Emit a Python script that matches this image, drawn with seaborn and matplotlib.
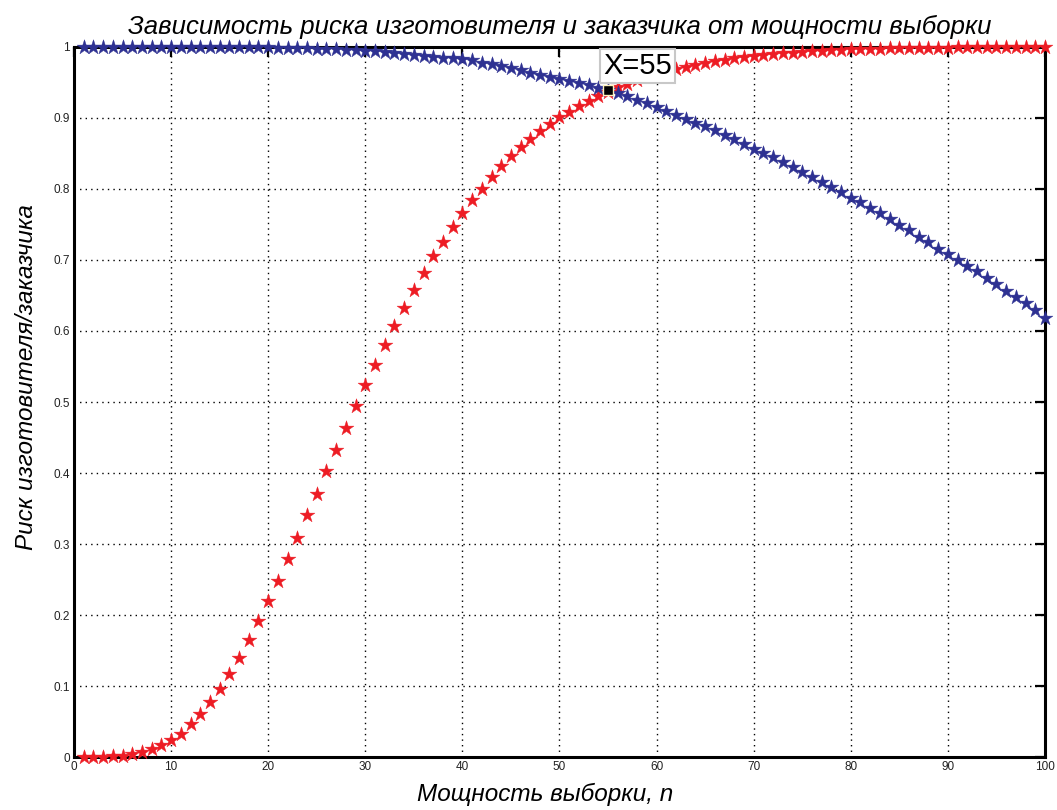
import numpy as np
import pandas as pd
import matplotlib
matplotlib.use("Agg")
import matplotlib.pyplot as plt
import seaborn as sns
from matplotlib.font_manager import fontManager

# ---- data ----
n_values = list(range(1, 101))

producer_risk = [  # red series
    0.000, 0.000, 0.000, 0.001, 0.002, 0.004, 0.007, 0.012, 0.017, 0.024,
    0.033, 0.046, 0.060, 0.077, 0.096, 0.117, 0.140, 0.165, 0.192, 0.220,
    0.248, 0.279, 0.309, 0.341, 0.371, 0.403, 0.433, 0.464, 0.494, 0.524,
    0.552, 0.580, 0.607, 0.633, 0.658, 0.682, 0.705, 0.726, 0.746, 0.766,
    0.785, 0.800, 0.817, 0.832, 0.846, 0.859, 0.871, 0.881, 0.891, 0.901,
    0.909, 0.917, 0.924, 0.931, 0.937, 0.943, 0.948, 0.953, 0.958, 0.962,
    0.966, 0.969, 0.972, 0.975, 0.978, 0.980, 0.982, 0.984, 0.986, 0.988,
    0.989, 0.990, 0.991, 0.992, 0.993, 0.994, 0.995, 0.9955, 0.996, 0.9965,
    0.997, 0.9973, 0.9976, 0.998, 0.9982, 0.9985, 0.9987, 0.9989, 0.999, 0.9992,
    0.9993, 0.9994, 0.9995, 0.9996, 0.9997, 0.9997, 0.9998, 0.9998, 0.9999, 0.9999,
]

consumer_risk = [  # blue series
    1.000, 1.000, 1.000, 1.000, 1.000, 1.000, 1.000, 1.000, 1.000, 1.000,
    1.000, 1.000, 0.9999, 0.9999, 0.9999, 0.9998, 0.9997, 0.9996, 0.9995, 0.9993,
    0.9991, 0.9988, 0.9985, 0.9982, 0.9978, 0.9973, 0.9967, 0.9961, 0.9954, 0.9946,
    0.9937, 0.9927, 0.9916, 0.9904, 0.9892, 0.9879, 0.9865, 0.9850, 0.985, 0.983,
    0.981, 0.978, 0.976, 0.973, 0.970, 0.967, 0.964, 0.961, 0.958, 0.955,
    0.952, 0.949, 0.946, 0.942, 0.939, 0.935, 0.931, 0.926, 0.921, 0.916,
    0.910, 0.904, 0.899, 0.893, 0.889, 0.883, 0.876, 0.870, 0.863, 0.857,
    0.850, 0.845, 0.838, 0.831, 0.824, 0.817, 0.810, 0.803, 0.796, 0.788,
    0.781, 0.773, 0.766, 0.758, 0.749, 0.742, 0.733, 0.725, 0.716, 0.708,
    0.700, 0.692, 0.684, 0.674, 0.666, 0.657, 0.648, 0.639, 0.630, 0.618,
]

x_ticks = list(range(0, 101, 10))
y_ticks = [0, 0.1, 0.2, 0.3, 0.4, 0.5, 0.6, 0.7, 0.8, 0.9, 1]
y_tick_labels = ["0", "0.1", "0.2", "0.3", "0.4", "0.5", "0.6", "0.7", "0.8", "0.9", "1"]

tip_x = 55
tip_label = "X=55"

title_text = "Зависимость риска изготовителя и заказчика от мощности выборки"
x_label = "Мощность выборки, n"
y_label = "Риск изготовителя/заказчика"

# ---- style ----
sns.set_style("white")
names = {f.name for f in fontManager.ttflist}
cond_font = "Liberation Sans Narrow" if "Liberation Sans Narrow" in names else "Liberation Sans"
plt.rcParams["font.family"] = ["Liberation Sans", "DejaVu Sans"]
plt.rcParams["text.color"] = "black"
plt.rcParams["axes.labelcolor"] = "black"

df = pd.DataFrame({"n": n_values, "red": producer_risk, "blue": consumer_risk})

fig = plt.figure(figsize=(10.57, 8.10), dpi=100)
ax = fig.add_axes([0.070, 0.0654, 0.9186, 0.8766])

red_c = "#ed1c24"
blue_c = "#2e3192"

sns.scatterplot(data=df, x="n", y="red", marker="*", s=125, color=red_c,
                edgecolor=red_c, linewidth=0.3, ax=ax, zorder=3, clip_on=False)
sns.scatterplot(data=df, x="n", y="blue", marker="*", s=125, color=blue_c,
                edgecolor=blue_c, linewidth=0.3, ax=ax, zorder=4, clip_on=False)

ax.set_xlim(0, 100)
ax.set_ylim(0, 1)
ax.set_xticks(x_ticks)
ax.set_yticks(y_ticks)
ax.set_yticklabels(y_tick_labels)
ax.tick_params(direction="in", length=7, width=1.6, top=True, right=True,
               labelsize=8.5, pad=3, colors="black", labelcolor="#222222")
ax.grid(True, linestyle=(0, (1, 3)), color="black", linewidth=1.0)
for sp in ax.spines.values():
    sp.set_linewidth(2.2)
    sp.set_color("black")

lab_font = [cond_font, "DejaVu Sans"]
ax.set_xlabel(x_label, fontsize=17.5, style="italic", family=lab_font, color="black")
ax.set_ylabel(y_label, fontsize=17.5, style="italic", family=lab_font, color="black")
ax.xaxis.set_label_coords(0.485, -0.036)
ax.yaxis.set_label_coords(-0.037, 0.535)
ax.set_title(title_text, fontsize=18.5, style="italic", family=lab_font, pad=9, color="black")

# data tip
tip_y = consumer_risk[n_values.index(tip_x)]
ax.plot([tip_x], [tip_y], marker="s", markersize=7, color="black",
        markeredgecolor="#fff3c0", markeredgewidth=1, zorder=6, clip_on=False)
ax.annotate(tip_label, xy=(tip_x, tip_y), xytext=(-5, 10), textcoords="offset pixels",
            ha="left", va="bottom", fontsize=21, family=lab_font, color="black",
            bbox=dict(boxstyle="square,pad=0.1", fc="white", ec="#c8c8c8", lw=1.5),
            zorder=7, annotation_clip=False)

fig.savefig("out.png", dpi=100, facecolor="white")
